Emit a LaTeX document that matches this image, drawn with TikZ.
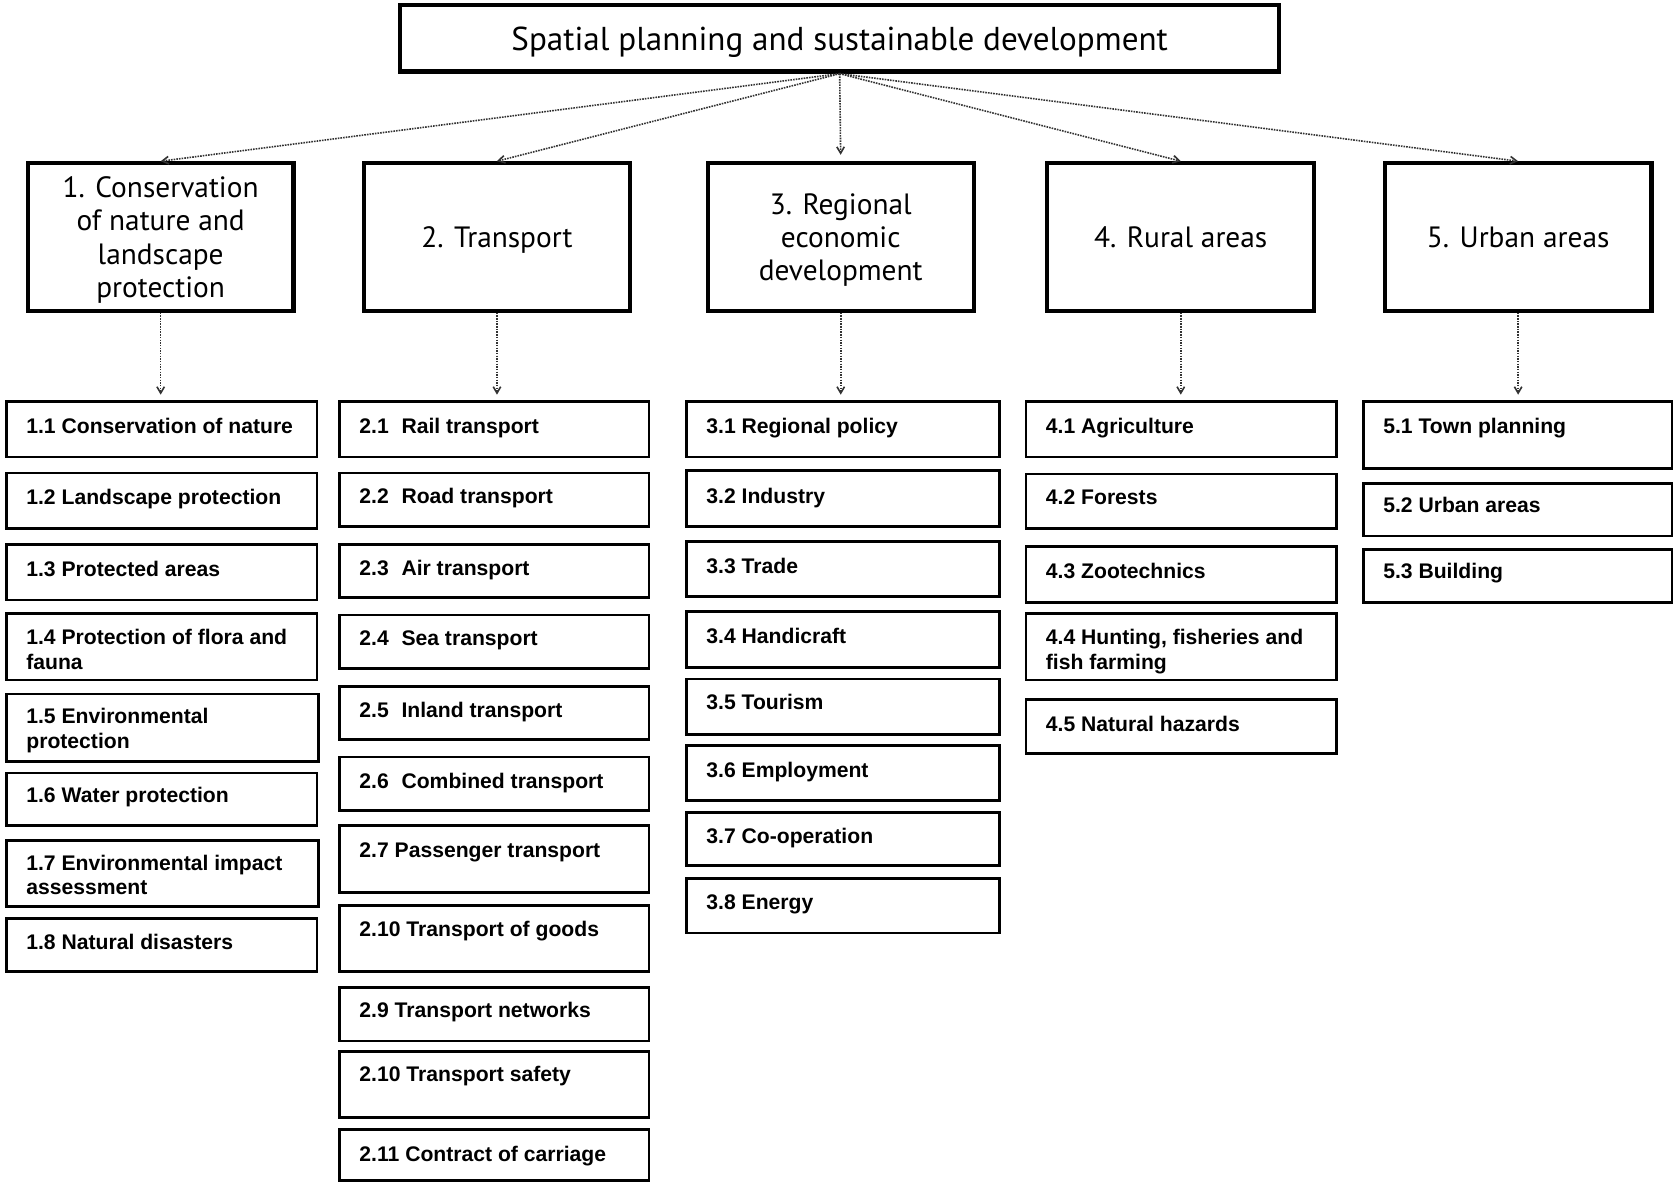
\documentclass[tikz,border=0pt]{standalone}
\usepackage{fontspec}
\setmainfont{Liberation Sans}
\newfontfamily\titlefont{PT Sans}
\usetikzlibrary{arrows.meta}
\tikzset{
 topbox/.style={draw, line width=4pt, inner sep=0pt, text depth=0pt, font=\titlefont\fontsize{31}{36}\selectfont},
 catbox/.style={draw, line width=4pt, inner sep=0pt, text depth=0pt, align=center, font=\titlefont\fontsize{27.5}{31}\selectfont},
 leaf/.style={draw, line width=2.6pt, inner sep=0pt},
 lt/.style={inner sep=0pt, align=left, font=\bfseries\fontsize{19.8}{23}\selectfont},
 conn/.style={densely dotted, line width=1.5pt, draw=black!80, -{Straight Barb[length=6pt,width=7pt]}},
}
\newcommand\leafbox[7]{%
 \node[leaf, minimum width=#4-#2, minimum height=#5-#3] (#1) at ({(#2+#4)/2},{(#3+#5)/2}) {};
 \node[lt, anchor=base west] (#1t) at ({#2+18.5},#6) {#7};}
\begin{document}
\begin{tikzpicture}[x=1pt,y=-1pt]
\useasboundingbox (0,0) rectangle (1568,1109);
\node[topbox, minimum width=823, minimum height=62] (top) at (786.5,36) {Spatial planning and sustainable development};

\node[catbox, minimum width=249, minimum height=138] (c1) at (150.5,222) {1. Conservation\\of nature and\\landscape\\protection};
\node[catbox, minimum width=249, minimum height=138] (c2) at (465.5,222) {2. Transport};
\node[catbox, minimum width=249, minimum height=138] (c3) at (787.5,222) {3. Regional\\economic\\development};
\node[catbox, minimum width=250, minimum height=138] (c4) at (1106,222) {4. Rural areas};
\node[catbox, minimum width=250, minimum height=138] (c5) at (1422,222) {5. Urban areas};

\draw[conn] (top.south) -- (c1.north);
\draw[conn] (top.south) -- (c2.north);
\draw[conn, shorten >=6pt] (top.south) -- (c3.north);
\draw[conn] (top.south) -- (c4.north);
\draw[conn] (top.south) -- (c5.north);

% column 1
\leafbox{l11}{6}{376}{297}{428}{406}{1.1 Conservation of nature}
\leafbox{l12}{6}{443}{297}{495}{473}{1.2 Landscape protection}
\leafbox{l13}{6}{510}{297}{562}{540}{1.3 Protected areas}
\leafbox{l14}{6}{575}{297}{637}{627}{1.4 Protection of flora and\\fauna}
\leafbox{l15}{6}{650}{298}{713}{701}{1.5 Environmental\\protection}
\leafbox{l16}{6}{724}{297}{773}{752}{1.6 Water protection}
\leafbox{l17}{6}{787}{298}{849}{838}{1.7 Environmental impact\\assessment}
\leafbox{l18}{6}{860}{297}{910}{889}{1.8 Natural disasters}
% column 2
\leafbox{l21}{318}{376}{608}{428}{406}{2.1\hspace{0.6em}Rail transport}
\leafbox{l22}{318}{443}{608}{493}{472}{2.2\hspace{0.6em}Road transport}
\leafbox{l23}{318}{510}{608}{560}{539}{2.3\hspace{0.6em}Air transport}
\leafbox{l24}{318}{576}{608}{626}{605}{2.4\hspace{0.6em}Sea transport}
\leafbox{l25}{318}{643}{608}{693}{672}{2.5\hspace{0.6em}Inland transport}
\leafbox{l26}{318}{709}{608}{759}{739}{2.6\hspace{0.6em}Combined transport}
\leafbox{l27}{318}{773}{608}{836}{803}{2.7 Passenger transport}
\leafbox{l28}{318}{848}{608}{910}{877}{2.10 Transport of goods}
\leafbox{l29}{318}{925}{608}{975}{953}{2.9 Transport networks}
\leafbox{l210}{318}{985}{608}{1047}{1013}{2.10 Transport safety}
\leafbox{l211}{318}{1058}{608}{1106}{1088}{2.11 Contract of carriage}
% column 3
\leafbox{l31}{643}{376}{936}{428}{406}{3.1 Regional policy}
\leafbox{l32}{643}{441}{936}{493}{472}{3.2 Industry}
\leafbox{l33}{643}{507}{936}{559}{537}{3.3 Trade}
\leafbox{l34}{643}{573}{936}{625}{603}{3.4 Handicraft}
\leafbox{l35}{643}{636}{936}{688}{665}{3.5 Tourism}
\leafbox{l36}{643}{698}{936}{750}{728}{3.6 Employment}
\leafbox{l37}{643}{761}{936}{811}{790}{3.7 Co-operation}
\leafbox{l38}{643}{823}{936}{874}{852}{3.8 Energy}
% column 4
\leafbox{l41}{961}{376}{1252}{428}{406}{4.1 Agriculture}
\leafbox{l42}{961}{444}{1252}{495}{473}{4.2 Forests}
\leafbox{l43}{961}{512}{1252}{564}{542}{4.3 Zootechnics}
\leafbox{l44}{961}{575}{1252}{637}{627}{4.4 Hunting, fisheries and\\fish farming}
\leafbox{l45}{961}{655}{1252}{706}{685}{4.5 Natural hazards}
% column 5
\leafbox{l51}{1277}{376}{1566}{439}{406}{5.1 Town planning}
\leafbox{l52}{1277}{453}{1566}{502}{480}{5.2 Urban areas}
\leafbox{l53}{1277}{515}{1566}{564}{542}{5.3 Building}

\draw[conn, shorten >=5pt] (c1.south) -- (c1.south |- l11.north);
\draw[conn, shorten >=5pt] (c2.south) -- (c2.south |- l21.north);
\draw[conn, shorten >=5pt] (c3.south) -- (c3.south |- l31.north);
\draw[conn, shorten >=5pt] (c4.south) -- (c4.south |- l41.north);
\draw[conn, shorten >=5pt] (c5.south) -- (c5.south |- l51.north);
\end{tikzpicture}
\end{document}
